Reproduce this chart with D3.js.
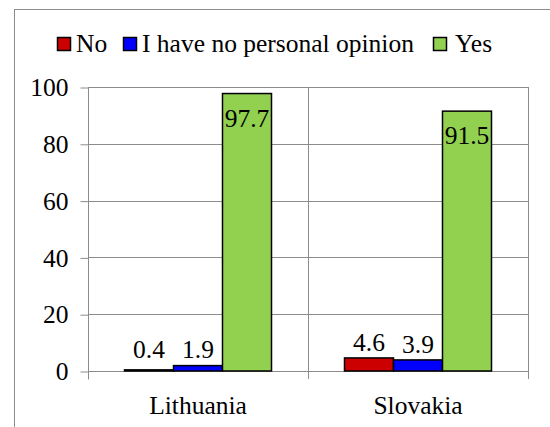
<!DOCTYPE html>
<html>
<head>
<meta charset="utf-8">
<script src="https://cdn.jsdelivr.net/npm/d3@7"></script>
<style>
  body { margin: 0; background: #fff; }
</style>
</head>
<body>
<div id="chart"></div>
<script>
// Chart data
var categories = ['Lithuania', 'Slovakia'];
var seriesNames = ['No', 'I have no personal opinion', 'Yes'];
var seriesColors = ['#cc0000', '#0000ff', '#92d050'];
var noValues = [0.4, 4.6];
var neutralValues = [1.9, 3.9];
var yesValues = [97.7, 91.5];
var yTicks = [0, 20, 40, 60, 80, 100];

var seriesValues = [noValues, neutralValues, yesValues];

var width = 550, height = 427;
var plotLeft = 88, plotRight = 528, plotTop = 87, plotBottom = 371;
var gridColor = '#8c8c8c';
var fontFamily = '"Liberation Serif", "Times New Roman", Times, serif';
var fontSize = '25.5px';

var svg = d3.select('#chart').append('svg')
  .attr('width', width)
  .attr('height', height)
  .style('font-family', fontFamily);

// outer frame
svg.append('rect')
  .attr('x', 14.5).attr('y', 9.5)
  .attr('width', 560).attr('height', 440)
  .attr('fill', 'none')
  .attr('stroke', gridColor);

var y = d3.scaleLinear().domain([0, 100]).range([plotBottom, plotTop]);
var x0 = d3.scaleBand().domain(categories).range([plotLeft, plotRight]);
var x1 = d3.scaleBand().domain(d3.range(seriesNames.length))
  .range([36.5, x0.bandwidth() - 36.5]);

// horizontal gridlines
svg.append('g').selectAll('line')
  .data(yTicks.slice(1))
  .enter().append('line')
  .attr('x1', plotLeft).attr('x2', plotRight)
  .attr('y1', function(d) { return Math.round(y(d)) + 0.5; })
  .attr('y2', function(d) { return Math.round(y(d)) + 0.5; })
  .attr('stroke', gridColor);

// vertical gridlines at category boundaries
var bounds = categories.map(function(c) { return x0(c) + x0.bandwidth(); });
svg.append('g').selectAll('line')
  .data(bounds)
  .enter().append('line')
  .attr('x1', function(d) { return Math.round(d) + 0.5; })
  .attr('x2', function(d) { return Math.round(d) + 0.5; })
  .attr('y1', plotTop).attr('y2', plotBottom + 8)
  .attr('stroke', gridColor);

// y axis
var yAxis = svg.append('g')
  .attr('transform', 'translate(' + (plotLeft + 0.5) + ',0.5)')
  .call(d3.axisLeft(y).tickValues(yTicks).tickSize(8).tickPadding(12));
yAxis.attr('font-family', null).attr('font-size', null);
yAxis.select('.domain').attr('stroke', gridColor)
  .attr('d', 'M0,' + plotTop + 'V' + (plotBottom + 8));
yAxis.selectAll('.tick line').attr('stroke', gridColor);
yAxis.selectAll('.tick text')
  .style('font-family', fontFamily)
  .style('font-size', fontSize)
  .attr('fill', '#000');

// x axis line
svg.append('line')
  .attr('x1', plotLeft).attr('x2', plotRight)
  .attr('y1', plotBottom + 0.5).attr('y2', plotBottom + 0.5)
  .attr('stroke', gridColor);

// category labels
svg.append('g').selectAll('text')
  .data(categories)
  .enter().append('text')
  .attr('x', function(d) { return x0(d) + x0.bandwidth() / 2; })
  .attr('y', 414)
  .attr('text-anchor', 'middle')
  .style('font-family', fontFamily)
  .style('font-size', fontSize)
  .text(function(d) { return d; });

// bars
var groups = svg.append('g').selectAll('g')
  .data(categories)
  .enter().append('g')
  .attr('transform', function(d) { return 'translate(' + x0(d) + ',0)'; });

groups.selectAll('rect')
  .data(function(d, ci) {
    return seriesValues.map(function(vals, si) { return { s: si, v: vals[ci] }; });
  })
  .enter().append('rect')
  .attr('x', function(d) { return x1(d.s); })
  .attr('width', x1.bandwidth())
  .attr('y', function(d) { return y(d.v); })
  .attr('height', function(d) { return plotBottom - y(d.v); })
  .attr('fill', function(d) { return seriesColors[d.s]; })
  .attr('stroke', '#000')
  .attr('stroke-width', 1.5);

// value labels
groups.selectAll('text')
  .data(function(d, ci) {
    return seriesValues.map(function(vals, si) { return { s: si, v: vals[ci] }; });
  })
  .enter().append('text')
  .attr('x', function(d) { return x1(d.s) + x1.bandwidth() / 2; })
  .attr('y', function(d) {
    var t = y(d.v);
    if (d.v > 85) return t + 33;
    return Math.min(t, plotBottom - 6) - 7;
  })
  .attr('text-anchor', 'middle')
  .style('font-family', fontFamily)
  .style('font-size', fontSize)
  .text(function(d) { return d.v; });

// legend
var legendX = [57, 123, 433];
var legend = svg.append('g').selectAll('g')
  .data(seriesNames)
  .enter().append('g')
  .attr('transform', function(d, i) { return 'translate(' + legendX[i] + ',0)'; });

legend.append('rect')
  .attr('x', 0.5).attr('y', 37.5)
  .attr('width', 13).attr('height', 13)
  .attr('fill', function(d, i) { return seriesColors[i]; })
  .attr('stroke', '#000')
  .attr('stroke-width', 1.5);

legend.append('text')
  .attr('x', function(d, i) { return i === 2 ? 22 : 19; })
  .attr('y', 52)
  .style('font-family', fontFamily)
  .style('font-size', fontSize)
  .text(function(d) { return d; });
</script>
</body>
</html>
